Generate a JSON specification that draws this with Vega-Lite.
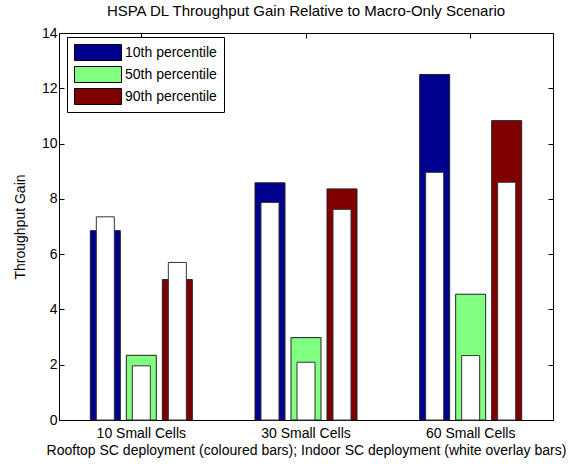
{
  "$schema": "https://vega.github.io/schema/vega-lite/v6.json",
  "width": 494,
  "height": 387,
  "autosize": {"type": "none"},
  "padding": {"left": 59, "top": 33, "right": 30, "bottom": 44},
  "background": "white",
  "config": {
    "font": "Liberation Sans",
    "view": {"stroke": "black", "strokeWidth": 1},
    "axis": {"labelFont": "Liberation Sans", "titleFont": "Liberation Sans", "labelFontSize": 14, "titleFontSize": 14, "titleFontWeight": "normal", "labelColor": "black", "titleColor": "black", "domainColor": "black", "tickColor": "black", "grid": false}
  },
  "title": {"text": "HSPA DL Throughput Gain Relative to Macro-Only Scenario", "fontSize": 15, "fontWeight": "normal", "font": "Liberation Sans", "color": "black", "offset": 7, "anchor": "middle"},
  "data": {
    "values": [
      {"cells": "10 Small Cells", "percentile": "10th percentile", "rooftop": 6.85, "indoor": 7.35},
      {"cells": "10 Small Cells", "percentile": "50th percentile", "rooftop": 2.34, "indoor": 1.96},
      {"cells": "10 Small Cells", "percentile": "90th percentile", "rooftop": 5.08, "indoor": 5.7},
      {"cells": "30 Small Cells", "percentile": "10th percentile", "rooftop": 8.58, "indoor": 7.87},
      {"cells": "30 Small Cells", "percentile": "50th percentile", "rooftop": 2.98, "indoor": 2.09},
      {"cells": "30 Small Cells", "percentile": "90th percentile", "rooftop": 8.36, "indoor": 7.62},
      {"cells": "60 Small Cells", "percentile": "10th percentile", "rooftop": 12.5, "indoor": 8.96},
      {"cells": "60 Small Cells", "percentile": "50th percentile", "rooftop": 4.55, "indoor": 2.33},
      {"cells": "60 Small Cells", "percentile": "90th percentile", "rooftop": 10.83, "indoor": 8.6}
    ]
  },
  "encoding": {
    "x": {"field": "cells", "type": "nominal", "scale": {"paddingInner": 0, "paddingOuter": 0}},
    "xOffset": {"field": "percentile", "type": "nominal", "scale": {"paddingInner": 0.1667, "paddingOuter": 0.87}}
  },
  "layer": [
    {
      "mark": {"type": "bar", "stroke": "#222222", "strokeWidth": 1},
      "encoding": {
        "x": {"field": "cells", "type": "nominal", "axis": {"orient": "bottom", "labelAngle": 0, "tickSize": -5, "labelPadding": 11, "title": "Rooftop SC deployment (coloured bars); Indoor SC deployment (white overlay bars)", "titlePadding": 3}},
        "y": {"field": "rooftop", "type": "quantitative", "scale": {"domain": [0, 14], "nice": false}, "axis": {"values": [0, 2, 4, 6, 8, 10, 12, 14], "tickSize": -5, "labelPadding": 7, "title": "Throughput Gain", "titlePadding": 14}},
        "color": {"field": "percentile", "type": "nominal", "scale": {"domain": ["10th percentile", "50th percentile", "90th percentile"], "range": ["#00008F", "#80FF80", "#800000"]},
          "legend": {"title": null, "orient": "none", "legendX": 8, "legendY": 4, "symbolType": "M-1,-0.34H1V0.34H-1Z", "symbolSize": 2209, "symbolStrokeColor": "black", "symbolStrokeWidth": 1, "symbolOpacity": 1, "clipHeight": 17, "rowPadding": 5, "labelFontSize": 14, "labelFont": "Liberation Sans", "labelColor": "black", "labelOffset": 3, "strokeColor": "black", "fillColor": "white", "padding": 7}}
      }
    },
    {
      "mark": {"type": "bar", "width": 18, "fill": "white", "stroke": "#333333", "strokeWidth": 1},
      "encoding": {
        "x": {"field": "cells", "type": "nominal", "axis": {"orient": "top", "labels": false, "domain": false, "tickSize": -5, "title": null}},
        "y": {"field": "indoor", "type": "quantitative", "axis": {"orient": "right", "values": [0, 2, 4, 6, 8, 10, 12, 14], "labels": false, "domain": false, "tickSize": -5, "title": null}}
      }
    }
  ],
  "resolve": {"axis": {"x": "independent", "y": "independent"}}
}
